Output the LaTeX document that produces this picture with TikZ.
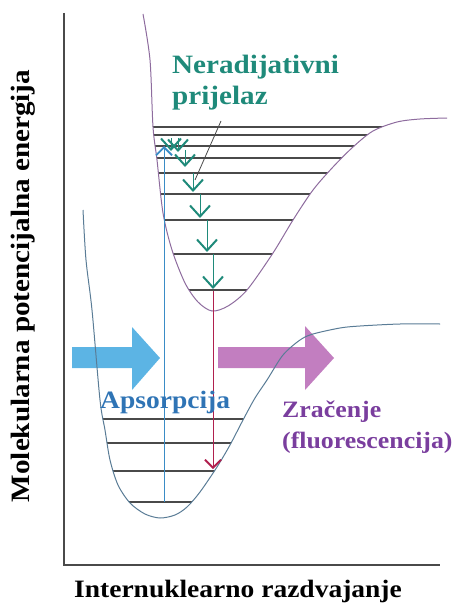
\documentclass[tikz,border=0pt]{standalone}
\usepackage{fontspec}
\setmainfont{Liberation Serif}[FakeStretch=1.1]
\usetikzlibrary{arrows.meta}
\definecolor{excited}{HTML}{8E6C9E}
\definecolor{ground}{HTML}{5A7C96}
\definecolor{levelgray}{HTML}{4A4A4A}
\definecolor{relaxgreen}{HTML}{1F8A7A}
\definecolor{absorbblue}{HTML}{3A8CC6}
\definecolor{absorbtext}{HTML}{2F74B5}
\definecolor{emitred}{HTML}{B0204E}
\definecolor{emittext}{HTML}{7A3E9E}
\definecolor{lightblue}{HTML}{5CB4E4}
\definecolor{lightpurple}{HTML}{C27EC0}

\begin{document}
\begin{tikzpicture}[x=1pt, y=-1pt,
    level/.style={draw=levelgray, line width=1.1pt},
    relax/.style={draw=relaxgreen, line width=1pt, -{Straight Barb[length=11pt, width=20pt, line width=2pt]}},
    absorb/.style={draw=absorbblue, line width=0.9pt, -{Straight Barb[length=8pt, width=16pt, line width=1.8pt]}},
    emit/.style={draw=emitred, line width=0.9pt, -{Straight Barb[length=8pt, width=16pt, line width=1.8pt]}},
    label text/.style={font=\fontsize{#1}{31}\selectfont\bfseries, align=left, inner sep=0pt},
    label text/.default=25,
]
\useasboundingbox (0,0) rectangle (460,607);

% Broad light arrows
\fill[lightblue] (72,347) -- (132,347) -- (132,327) -- (160,358) -- (132,390) -- (132,368) -- (72,368) -- cycle;
\fill[lightpurple] (218,347) -- (305,347) -- (305,326) -- (334,358) -- (305,390) -- (305,368) -- (218,368) -- cycle;

% Axes
\coordinate (origin) at (64,565);
\coordinate (ytop) at (64,13);
\coordinate (xend) at (440,565);
\draw[levelgray, line width=1.4pt] (ytop) -- (origin) -- (xend);

% Vibrational levels, excited state
\begin{scope}
\clip plot[smooth] coordinates {(143,14) (150,60) (153,127) (157,160) (163,213) (172,250) (185,283) (198,302) (212,311) (228,306) (247,290) (273,253) (293,220) (313,190) (333,167) (353,147) (373,131) (397,122) (420,119) (447,118)};
\foreach \ly in {127,135,146,158,173,194,220,254,290}
    \draw[level] (100,\ly) -- (460,\ly);
\end{scope}

% Vibrational levels, ground state
\begin{scope}
\clip plot[smooth] coordinates {(83,210) (86,260) (92,310) (100,400) (105,430) (110,460) (118,485) (130,503) (145,514) (160,518) (175,515) (187,507) (200,492) (217,467) (230,445) (243,420) (255,398) (267,380) (283,355) (300,340) (313,334) (340,328) (360,326) (400,324) (440,324)};
\foreach \ly in {419,443,471,502}
    \draw[level] (60,\ly) -- (460,\ly);
\end{scope}

% Potential curves
\draw[excited, line width=1pt] plot[smooth] coordinates {(143,14) (150,60) (153,127) (157,160) (163,213) (172,250) (185,283) (198,302) (212,311) (228,306) (247,290) (273,253) (293,220) (313,190) (333,167) (353,147) (373,131) (397,122) (420,119) (447,118)};
\draw[ground, line width=1pt] plot[smooth] coordinates {(83,210) (86,260) (92,310) (100,400) (105,430) (110,460) (118,485) (130,503) (145,514) (160,518) (175,515) (187,507) (200,492) (217,467) (230,445) (243,420) (255,398) (267,380) (283,355) (300,340) (313,334) (340,328) (360,326) (400,324) (440,324)};

% Absorption and emission
\coordinate (abs bottom) at (164,502);
\coordinate (abs top) at (164,146);
\draw[absorb] (abs bottom) -- (abs top);
\coordinate (em top) at (213,291);
\coordinate (em bottom) at (213,469);
\draw[emit] (em top) -- (em bottom);

% Relaxation staircase
\coordinate (r1a) at (171,138); \coordinate (r1b) at (171,151);
\coordinate (r2a) at (178,138); \coordinate (r2b) at (178,152);
\coordinate (r3a) at (185,150); \coordinate (r3b) at (185,167);
\coordinate (r4a) at (193,173); \coordinate (r4b) at (193,192);
\coordinate (r5a) at (200,194); \coordinate (r5b) at (200,218);
\coordinate (r6a) at (207,220); \coordinate (r6b) at (207,252);
\coordinate (r7a) at (213,254); \coordinate (r7b) at (213,289);
\foreach \i in {1,...,7}
    \draw[relax] (r\i a) -- (r\i b);

% Labels
\node[label text=26.5, text=relaxgreen, anchor=north west] (nonrad) at (172,55) {Neradijativni\\prijelaz};
\coordinate (ptr start) at (221,121);
\coordinate (ptr end) at (195,180);
\draw[levelgray, line width=0.8pt] (ptr start) -- (ptr end);
\node[label text, text=absorbtext, anchor=north west] (absorption) at (100,391) {Apsorpcija};
\node[label text=23.5, text=emittext, anchor=north west] (emission) at (282,401) {Zračenje\\(fluorescencija)};
\node[label text=26.5, rotate=90] (ylabel) at (23,286) {Molekularna potencijalna energija};
\node[label text, anchor=north] (xlabel) at (238,580) {Internuklearno razdvajanje};

\end{tikzpicture}
\end{document}
